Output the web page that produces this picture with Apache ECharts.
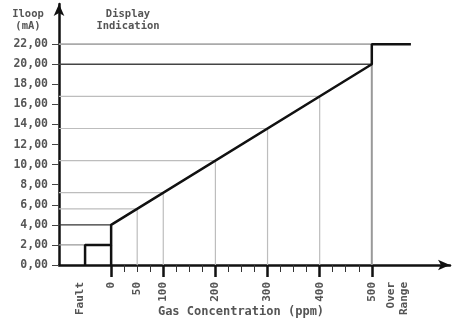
<!DOCTYPE html>
<html><head><meta charset="utf-8">
<script src="https://cdn.jsdelivr.net/npm/echarts@6/dist/echarts.min.js"></script>
<style>html,body{margin:0;padding:0;background:#fff}#c{width:455px;height:323px}</style>
</head><body><div id="c"></div>
<script>
// Transfer curve (ppm -> mA)
const curveX = [-50, -50, 0, 0, 500, 500, 575];
const curveY = [0, 2, 2, 4, 20, 22, 22];
// guide points on the curve
const refX = [50, 100, 200, 300, 400];
const refY = [5.6, 7.2, 10.4, 13.6, 16.8];
// y ticks
const yTicks = [0, 2, 4, 6, 8, 10, 12, 14, 16, 18, 20, 22];
// x labels
const xLabelValues = [-60, 0, 50, 100, 200, 300, 400, 500, 550];
const xLabelTexts = ['Fault', '0', '50', '100', '200', '300', '400', '500', 'Over\nRange'];
const xMajorTicks = [0, 100, 200, 300, 400, 500];
const xMinorTicks = [25, 50, 75, 125, 150, 175, 225, 250, 275, 325, 350, 375, 425, 450, 475];
const xName = 'Gas Concentration (ppm)';

const FONT = '"DejaVu Sans Mono", monospace';
const chart = echarts.init(document.getElementById('c'), null, {renderer: 'canvas'});
const X0 = -100;

function seg(pts, color, width, z) {
  return {type: 'line', data: pts, symbol: 'none', silent: true, animation: false,
    lineStyle: {color: color, width: width}, z: z || 2, xAxisIndex: 0, yAxisIndex: 0};
}
const series = [];
refX.forEach((x, i) => series.push(seg([[X0, refY[i]], [x, refY[i]]], '#bdbdbd', 1.2)));
refX.forEach((x, i) => series.push(seg([[x, 0], [x, refY[i]]], '#bdbdbd', 1.2)));
series.push(seg([[X0, curveY[5]], [curveX[5], curveY[5]]], '#aaaaaa', 1.6));
series.push(seg([[X0, curveY[4]], [curveX[4], curveY[4]]], '#444444', 1.5));
series.push(seg([[curveX[4], 0], [curveX[4], curveY[4]]], '#999999', 2));
series.push(seg([[X0, curveY[3]], [curveX[3], curveY[3]]], '#333333', 1.3));
series.push(seg([[X0, curveY[1]], [curveX[1], curveY[1]]], '#999999', 1.3));
series.push(seg([[curveX[2], 0], [curveX[2], curveY[2]]], '#111111', 2.5, 5));
series.push(seg(curveX.map((x, i) => [x, curveY[i]]), '#111111', 2.5, 6));

const xBase = {type: 'value', min: X0, max: 650, position: 'bottom', gridIndex: 0,
  splitLine: {show: false}};
chart.setOption({
  animation: false,
  grid: {left: 59, right: 5, top: 4, bottom: 58, containLabel: false, outerBoundsMode: 'none'},
  graphic: [
    {type: 'text', x: 28, y: 8, style: {text: 'Iloop\n(mA)', font: 'bold 10.5px ' + FONT, fill: '#555', align: 'center', lineHeight: 12}},
    {type: 'text', x: 128, y: 8, style: {text: 'Display\nIndication', font: 'bold 10.5px ' + FONT, fill: '#555', align: 'center', lineHeight: 12}},
    {type: 'text', x: 241, y: 312, style: {text: xName, font: 'bold 12px ' + FONT, fill: '#555', align: 'center', verticalAlign: 'middle'}}
  ],
  xAxis: [
    Object.assign({}, xBase, {
      axisLine: {show: true, onZero: false, lineStyle: {color: '#111', width: 2.5}, symbol: ['none', 'arrow'], symbolSize: [8, 12]},
      axisTick: {show: false},
      axisLabel: {show: true, rotate: 90, margin: 17, customValues: xLabelValues,
        formatter: v => xLabelTexts[xLabelValues.indexOf(v)] || '',
        fontFamily: FONT, fontSize: 11, fontWeight: 'bold', color: '#555', lineHeight: 13}
    }),
    Object.assign({}, xBase, {
      axisLine: {show: false, onZero: false}, axisLabel: {show: false},
      axisTick: {show: true, customValues: xMajorTicks, length: 12, lineStyle: {color: '#111', width: 2.5}}
    }),
    Object.assign({}, xBase, {
      axisLine: {show: false, onZero: false}, axisLabel: {show: false},
      axisTick: {show: true, customValues: xMinorTicks, length: 7, lineStyle: {color: '#333', width: 1}}
    })
  ],
  yAxis: [{
    type: 'value', min: 0, max: 26, position: 'left',
    splitLine: {show: false},
    axisLine: {show: true, onZero: false, lineStyle: {color: '#111', width: 2.5}, symbol: ['none', 'arrow'], symbolSize: [8, 12]},
    axisTick: {show: true, customValues: yTicks, length: 7, lineStyle: {color: '#444', width: 1}},
    axisLabel: {show: true, customValues: yTicks, margin: 11,
      formatter: v => v.toFixed(2).replace('.', ','),
      fontFamily: FONT, fontSize: 11.5, fontWeight: 'bold', color: '#555'}
  }],
  series: series
});
</script></body></html>
